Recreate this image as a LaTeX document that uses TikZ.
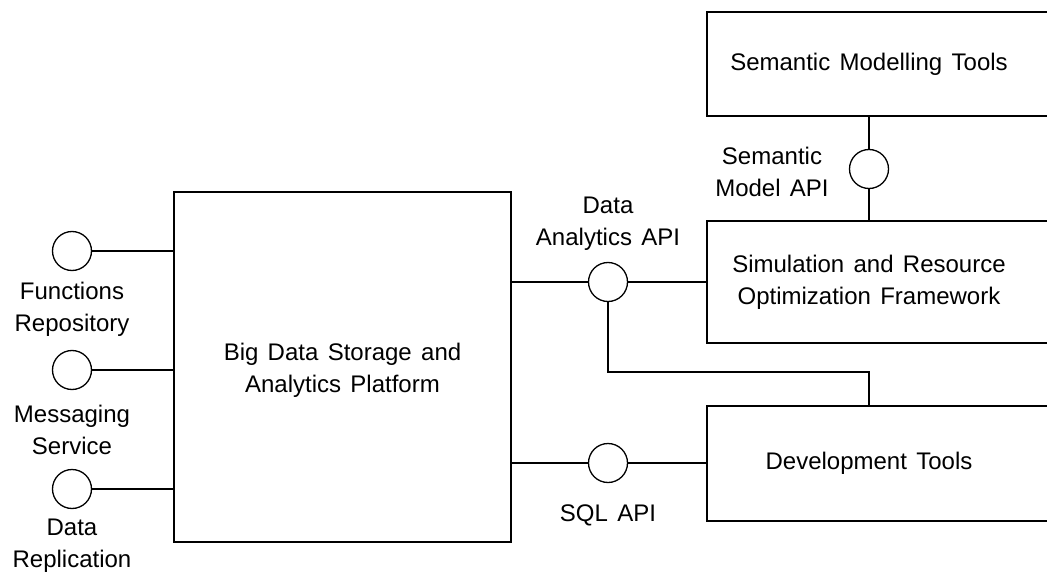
\documentclass[tikz,border=0pt]{standalone}
\usepackage{fontspec}
\setmainfont{Liberation Sans}[WordSpace=1.4]
\begin{document}
\begin{tikzpicture}[x=1pt,y=-1pt,
  line width=1.3pt,
  every node/.style={font=\fontsize{24}{32}\selectfont},
  compbox/.style={draw, rectangle, inner sep=0pt},
  iface/.style={draw, circle, fill=white, minimum size=39pt, inner sep=0pt},
  lbl/.style={align=center, inner sep=0pt}
]
\useasboundingbox (0,0) rectangle (1047,575);
\fill[white] (0,0) rectangle (1047,575);
\clip (0,0) rectangle (1047,575);

% components
\node[compbox, minimum width=337pt, minimum height=350pt] (big) at (342.5,367) {};
\node[lbl] at (342.5,370) {Big Data Storage and\\Analytics Platform};

\node[compbox, minimum width=353pt, minimum height=104pt,
      label={[lbl, xshift=-14.5pt]center:Semantic Modelling Tools}] (smt) at (883.5,64) {};
\node[compbox, minimum width=353pt, minimum height=122pt,
      label={[lbl, xshift=-14.5pt]center:Simulation and Resource\\Optimization Framework}] (sim) at (883.5,282) {};
\node[compbox, minimum width=353pt, minimum height=115pt,
      label={[lbl, xshift=-14.5pt]center:Development Tools}] (dev) at (883.5,463.5) {};

% provided interfaces
\node[iface] (fr) at (72,251) {};
\node[iface] (ms) at (72,370) {};
\node[iface] (dr) at (72,489) {};
\node[iface] (sm) at (869,169) {};
\node[iface] (da) at (608,282) {};
\node[iface] (sql) at (608,463) {};

% interface names
\node[lbl] at (72,309) {Functions\\Repository};
\node[lbl] at (72,430) {Messaging\\Service};
\node[lbl] at (72,546) {Data\\Replication};
\node[lbl] at (772,172) {Semantic\\Model API};
\node[lbl] at (608,224) {Data\\Analytics API};
\node[lbl] at (608,515) {SQL API};

% connectors
\draw (fr) -- (fr -| big.west);
\draw (ms) -- (ms -| big.west);
\draw (dr) -- (dr -| big.west);
\draw (sm) -- (sm |- smt.south);
\draw (sm) -- (sm |- sim.north);
\draw (da -| big.east) -- (da) -- (da -| sim.west);
\coordinate (bend) at (869,372);
\draw (da) |- (bend) -- (bend |- dev.north);
\draw (sql -| big.east) -- (sql) -- (sql -| dev.west);
\end{tikzpicture}
\end{document}
